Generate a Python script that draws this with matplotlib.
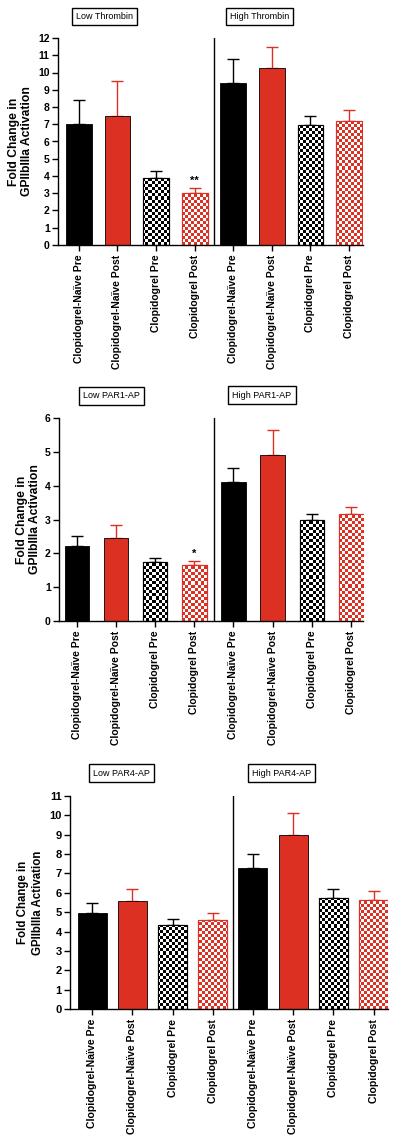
import numpy as np
import matplotlib
matplotlib.use("Agg")
import matplotlib.pyplot as plt
from matplotlib.colors import ListedColormap

plt.rcParams['font.family'] = ['Liberation Sans', 'DejaVu Sans']

# data
groups = ['Clopidogrel-Naïve Pre', 'Clopidogrel-Naïve Post', 'Clopidogrel Pre', 'Clopidogrel Post',
          'Clopidogrel-Naïve Pre', 'Clopidogrel-Naïve Post', 'Clopidogrel Pre', 'Clopidogrel Post']

thrombin_mean = [7.0, 7.5, 3.9, 3.0, 9.4, 10.25, 6.95, 7.2]
thrombin_err = [1.4, 2.0, 0.4, 0.3, 1.4, 1.2, 0.55, 0.6]

par1_mean = [2.22, 2.45, 1.75, 1.65, 4.1, 4.92, 2.98, 3.15]
par1_err = [0.28, 0.4, 0.1, 0.12, 0.42, 0.73, 0.19, 0.23]

par4_mean = [4.95, 5.6, 4.35, 4.58, 7.3, 9.0, 5.75, 5.62]
par4_err = [0.52, 0.62, 0.32, 0.37, 0.7, 1.1, 0.43, 0.45]

box_labels = [('Low Thrombin', 'High Thrombin'), ('Low PAR1-AP', 'High PAR1-AP'), ('Low PAR4-AP', 'High PAR4-AP')]
stars = ['**', '*', '']

RED = '#dc3122'
colors = ['black', RED, 'black', RED, 'black', RED, 'black', RED]
checker = [False, False, True, True, False, False, True, True]

W, H = 400, 1139
fig = plt.figure(figsize=(4, 11.39), dpi=100)


def panel(rect_px, means, errs, ymax, xlim, bw, lbls, boxpos, star, fs_tick, fs_x, fs_lab, labpad, lsp):
    l, t, r, b = rect_px
    ax = fig.add_axes([l / W, 1 - b / H, (r - l) / W, (b - t) / H])
    x = np.arange(len(means))
    for i in range(len(means)):
        if checker[i]:
            bar = ax.bar(x[i], means[i], bw, color='white', edgecolor=colors[i], linewidth=0.8, zorder=2)[0]
            nx, ny = int((r - l) / 3), int((b - t) / 3)
            grid = (np.add.outer(np.arange(ny), np.arange(nx)) % 2)
            img = ax.imshow(grid, cmap=ListedColormap(['white', colors[i]]), extent=[0, 1, 0, 1],
                            transform=ax.transAxes, aspect='auto', interpolation='nearest', zorder=2.5)
            img.set_clip_path(bar)
            ax.bar(x[i], means[i], bw, facecolor='none', edgecolor=colors[i], linewidth=0.8, zorder=3)
        else:
            ax.bar(x[i], means[i], bw, color=colors[i], edgecolor='black', linewidth=0.6, zorder=2)
        ax.errorbar(x[i], means[i], yerr=[[0], [errs[i]]], fmt='none', ecolor=colors[i],
                    elinewidth=1, capsize=4, capthick=1, zorder=1)
    if star:
        ax.text(3, means[3] + errs[3] + ymax * 0.012, star, ha='center', va='bottom',
                fontsize=8, fontweight='bold')
    ax.axvline(3.5, color='black', lw=1)
    ax.set_xlim(*xlim)
    ax.set_ylim(0, ymax)
    ax.set_yticks(range(0, ymax + 1))
    ax.set_xticks(x)
    ax.set_xticklabels(groups, rotation=90, fontsize=fs_x, fontweight='bold')
    for lab in ax.get_yticklabels():
        lab.set_fontweight('bold')
    ax.tick_params(axis='y', labelsize=fs_tick, length=4, width=1, pad=2)
    ax.tick_params(axis='x', length=4, width=1, pad=3)
    for s in ['top', 'right']:
        ax.spines[s].set_visible(False)
    ax.spines['left'].set_linewidth(1)
    ax.spines['bottom'].set_linewidth(1)
    ax.set_ylabel('Fold Change in\nGPIIbIIIa Activation', fontsize=fs_lab, fontweight='bold',
                  labelpad=labpad, linespacing=lsp)
    for txt, (px, py) in zip(lbls, boxpos):
        fig.text(px / W, 1 - py / H, txt, ha='center', va='center', fontsize=6.5,
                 bbox=dict(boxstyle='square,pad=0.45', facecolor='white', edgecolor='black', lw=1))
    return ax


panel((58, 38, 363, 245), thrombin_mean, thrombin_err, 12, (-0.54, 7.36), 0.67,
      box_labels[0], [(104.5, 16.5), (259.5, 16.5)], stars[0], 7.5, 7.5, 8.7, 4, 1.1)
panel((59, 418, 363, 621), par1_mean, par1_err, 6, (-0.46, 7.31), 0.62,
      box_labels[1], [(111, 396), (262, 395)], stars[1], 7.5, 7.5, 8.7, 3, 1.1)
panel((70, 796, 388, 1009), par4_mean, par4_err, 11, (-0.55, 7.36), 0.72,
      box_labels[2], [(121, 773), (281.5, 773)], stars[2], 8, 7.6, 8.3, 4, 1.3)

fig.savefig('out.png', dpi=100)
